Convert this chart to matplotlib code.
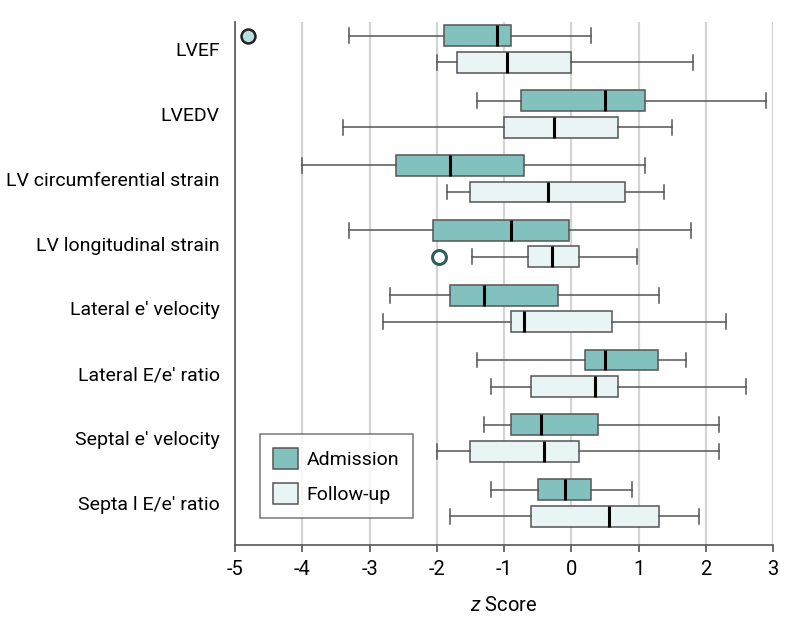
import matplotlib
matplotlib.use("Agg")
import matplotlib.pyplot as plt
from matplotlib.patches import Patch

plt.rcParams['font.family'] = ['Roboto', 'DejaVu Sans']
plt.rcParams['axes.unicode_minus'] = False
plt.rcParams['mathtext.fontset'] = 'custom'
plt.rcParams['mathtext.it'] = 'Roboto:italic'
plt.rcParams['mathtext.rm'] = 'Roboto'

# measures, top to bottom
labels = ["LVEF", "LVEDV", "LV circumferential strain", "LV longitudinal strain",
          "Lateral e' velocity", "Lateral E/e' ratio", "Septal e' velocity",
          "Septa l E/e' ratio"]

# admission: whisker low, q1, median, q3, whisker high
adm_lo = [-3.30, -1.40, -4.00, -3.31, -2.70, -1.40, -1.30, -1.20]
adm_q1 = [-1.90, -0.75, -2.60, -2.05, -1.80, 0.20, -0.90, -0.50]
adm_med = [-1.11, 0.50, -1.80, -0.89, -1.30, 0.50, -0.45, -0.10]
adm_q3 = [-0.89, 1.10, -0.70, -0.03, -0.20, 1.29, 0.40, 0.30]
adm_hi = [0.30, 2.90, 1.10, 1.78, 1.30, 1.70, 2.20, 0.91]
adm_out = [[-4.80], [], [], [], [], [], [], []]

# follow-up
fu_lo = [-2.00, -3.40, -1.85, -1.47, -2.80, -1.20, -2.00, -1.80]
fu_q1 = [-1.70, -1.00, -1.50, -0.65, -0.90, -0.60, -1.50, -0.60]
fu_med = [-0.95, -0.25, -0.34, -0.28, -0.70, 0.35, -0.40, 0.56]
fu_q3 = [0.00, 0.70, 0.80, 0.12, 0.60, 0.70, 0.11, 1.30]
fu_hi = [1.81, 1.50, 1.38, 0.98, 2.30, 2.60, 2.20, 1.90]
fu_out = [[], [], [], [-1.97], [], [], [], []]

adm_color = "#83c1bf"
fu_color = "#e9f4f4"
edge = "#555555"


def make_stats(lo, q1, med, q3, hi, out):
    stats = []
    for i in range(len(lo)):
        stats.append(dict(whislo=lo[i], q1=q1[i], med=med[i], q3=q3[i],
                          whishi=hi[i], fliers=out[i]))
    return stats


fig = plt.figure(figsize=(7.94, 6.29), dpi=100)
ax = fig.add_axes([0.296, 0.1335, 0.6776, 0.8315])

pos = list(range(len(labels)))
off = 0.205
common = dict(vert=False, widths=0.32, capwidths=0.23, patch_artist=True,
              whiskerprops=dict(color=edge, lw=1.1),
              capprops=dict(color=edge, lw=1.1),
              medianprops=dict(color="black", lw=2.2),
              zorder=3)

b1 = ax.bxp(make_stats(adm_lo, adm_q1, adm_med, adm_q3, adm_hi, adm_out),
            positions=[p - off for p in pos],
            boxprops=dict(facecolor=adm_color, edgecolor=edge, lw=1.1),
            flierprops=dict(marker="o", markersize=10, markerfacecolor="#b8e0df",
                            markeredgecolor="#222222", markeredgewidth=1.8),
            **common)
b2 = ax.bxp(make_stats(fu_lo, fu_q1, fu_med, fu_q3, fu_hi, fu_out),
            positions=[p + off for p in pos],
            boxprops=dict(facecolor=fu_color, edgecolor=edge, lw=1.1),
            flierprops=dict(marker="o", markersize=10, markerfacecolor="white",
                            markeredgecolor="#2e5e5c", markeredgewidth=2.2),
            **common)

ax.set_xlim(-5, 3)
ax.set_ylim(7.648, -0.416)
ax.set_xticks(range(-5, 4))
ax.set_yticks(pos)
ax.set_yticklabels(labels)
ax.tick_params(axis="y", length=0, pad=11, labelsize=14)
ax.tick_params(axis="x", length=5, width=1.1, color="#444444", labelsize=14.5, pad=6)
ax.xaxis.grid(True, color="#d4d4d4", lw=1.6, zorder=0)
ax.set_axisbelow(True)
for s in ["top", "right"]:
    ax.spines[s].set_visible(False)
for s in ["left", "bottom"]:
    ax.spines[s].set_color("#555555")
    ax.spines[s].set_linewidth(1.2)
ax.set_xlabel("$z$ Score", fontsize=14.5, labelpad=12)

handles = [Patch(facecolor=adm_color, edgecolor=edge, lw=1.1, label="Admission"),
           Patch(facecolor=fu_color, edgecolor=edge, lw=1.1, label="Follow-up")]
leg = ax.legend(handles=handles, loc="lower left", bbox_to_anchor=(0.046, 0.052),
                borderaxespad=0, fontsize=14, frameon=True, fancybox=False,
                edgecolor="#555555", handlelength=1.29, handleheight=1.29,
                handletextpad=0.42, labelspacing=0.72, borderpad=0.7)
leg.get_frame().set_linewidth(1.1)

fig.savefig("out.png", dpi=100)
